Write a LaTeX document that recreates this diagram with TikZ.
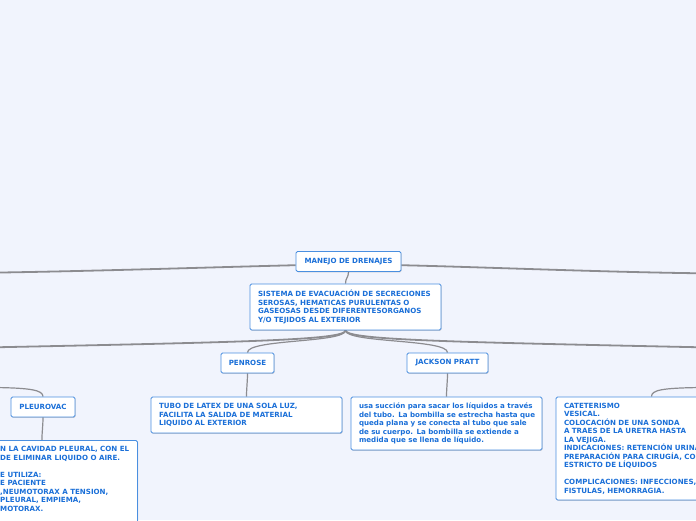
\documentclass[tikz,border=0pt]{standalone}
\usepackage{fontspec}
\setmainfont{DejaVu Sans}
\usetikzlibrary{shadows}
\definecolor{bg}{HTML}{F1F4FD}
\definecolor{bblue}{HTML}{4A8FE0}
\definecolor{tblue}{HTML}{1A6FD8}
\definecolor{lgray}{HTML}{8C8C90}
\pgfdeclarelayer{bglayer}
\pgfdeclarelayer{lines}
\pgfsetlayers{bglayer,lines,main}
\tikzset{
  mbox/.style={draw=bblue, fill=white, rounded corners=1.5pt, line width=0.9pt,
    text=tblue, font=\fontsize{7.1}{8.5}\selectfont\bfseries, inner sep=0pt,
    drop shadow={shadow xshift=0.6pt, shadow yshift=-0.8pt, fill=black, opacity=0.18}},
  tbox/.style={mbox, align=left, text width=#1, inner xsep=8pt},
  ftext/.style={text=tblue, font=\fontsize{7.1}{8.5}\selectfont\bfseries, inner sep=0pt, align=left},
  link/.style={draw=lgray, line width=1.2pt},
  thicklink/.style={draw=lgray, line width=1.8pt},
}
\begin{document}
\begin{tikzpicture}[x=1pt,y=-1pt]
\begin{pgfonlayer}{bglayer}
\fill[bg] (0,0) rectangle (696,520);
\end{pgfonlayer}
\useasboundingbox (0,0) rectangle (696,520);

% nodes
\node[mbox, minimum width=105pt, minimum height=20pt] (root) at (348.5,261.5) {MANEJO DE DRENAJES};
\node[tbox=175pt, minimum height=46pt] (sis) at (345.5,307) {SISTEMA DE EVACUACIÓN DE SECRECIONES\\ SEROSAS, HEMATICAS PURULENTAS O\\ GASEOSAS DESDE DIFERENTESORGANOS\\ Y/O TEJIDOS AL EXTERIOR};
\node[mbox, minimum width=53pt, minimum height=20pt] (pen) at (247.5,363) {PENROSE};
\node[mbox, minimum width=81pt, minimum height=20pt] (jp) at (447.5,363) {JACKSON PRATT};
\node[mbox, minimum width=64pt, minimum height=20pt] (pv) at (43,407) {PLEUROVAC};
\node[tbox=175pt, minimum height=36pt] (tubo) at (246.5,415) {TUBO DE LATEX DE UNA SOLA LUZ,\\ FACILITA LA SALIDA DE MATERIAL\\ LIQUIDO AL EXTERIOR};
\node[tbox=175pt, minimum height=53pt] (jpt) at (446.5,423.5) {\mbox{usa succión para sacar los líquidos a través}\\ \mbox{del tubo. La bombilla se estrecha hasta que}\\ \mbox{queda plana y se conecta al tubo que sale}\\ \mbox{de su cuerpo. La bombilla se extiende a}\\ \mbox{medida que se llena de líquido.}};
\node[tbox=175pt, minimum height=103pt] (cat) at (651.5,448.5) {CATETERISMO\\ VESICAL.\\ COLOCACIÓN DE UNA SONDA\\ A TRAES DE LA URETRA HASTA\\ LA VEJIGA.\\ \mbox{INDICACIONES: RETENCIÓN URINARIA,}\\ \mbox{PREPARACIÓN PARA CIRUGÍA, CONTROL}\\ ESTRICTO DE LÍQUIDOS\\ \mbox{}\\ COMPLICACIONES: INFECCIONES,\\ FISTULAS, HEMORRAGIA.};
\node[mbox, minimum width=191pt, minimum height=130pt, anchor=north west] (pleu) at (-54,440) {};
\node[ftext, anchor=north west] (pleut) at (0,446.5) {N LA CAVIDAD PLEURAL, CON EL\\ DE ELIMINAR LIQUIDO O AIRE.\\ \mbox{}\\ E UTILIZA:\\ E PACIENTE\\ ,NEUMOTORAX A TENSION,\\ PLEURAL, EMPIEMA,\\ MOTORAX.};

% coordinates at the picture edges
\coordinate (L1) at (-5,272.6);
\coordinate (R1) at (701,273.3);
\coordinate (L2) at (-5,347.3);
\coordinate (R2) at (701,347.3);
\coordinate (L3) at (-5,387.5);
\coordinate (R3) at (701,387.5);

% connectors
\begin{pgfonlayer}{lines}
\draw[thicklink] (root.184) .. controls (220,267) and (100,271) .. (L1);
\draw[thicklink] (root.356) .. controls (480,267) and (600,272) .. (R1);
\draw[link] (root.south) .. controls +(0,6) and +(0,-6) .. (sis.north);
\draw[thicklink] (sis.south) .. controls (345,340) and (250,342) .. (L2);
\draw[thicklink] (sis.south) .. controls (346,340) and (450,342) .. (R2);
\draw[link] (sis.south) .. controls (345,343) and (247,339) .. (pen.north);
\draw[link] (sis.south) .. controls (346,343) and (448,339) .. (jp.north);
\draw[link] (L3) .. controls (30,388) and (43,390) .. (pv.north);
\draw[link] (R3) .. controls (662,388) and (651.5,390) .. (cat.north);
\draw[link] (pen.south) .. controls +(0,8) and +(0,-8) .. (tubo.north);
\draw[link] (jp.south) .. controls +(0,8) and +(0,-8) .. (jpt.north);
\draw[link] (pv.south) .. controls +(0,8) and +(0,-8) .. (pleu.north);
\end{pgfonlayer}
\end{tikzpicture}
\end{document}
